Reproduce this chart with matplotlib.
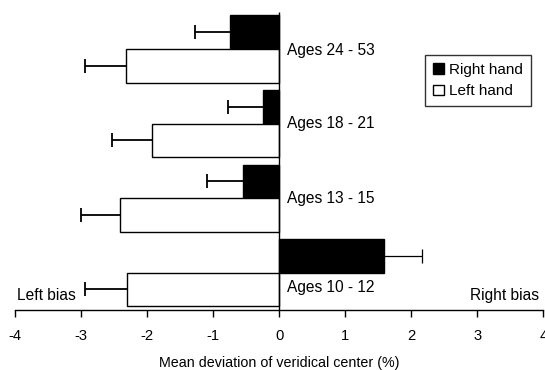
import matplotlib.pyplot as plt
import numpy as np

plt.rcParams['font.family'] = ['Liberation Sans', 'DejaVu Sans']
plt.rcParams['axes.unicode_minus'] = False

# Data (mean deviation in %, with one-sided error)
groups = ['Ages 10 - 12', 'Ages 13 - 15', 'Ages 18 - 21', 'Ages 24 - 53']
right_hand = [1.59, -0.55, -0.24, -0.75]
right_err = [0.57, 0.55, 0.54, 0.52]
left_hand = [-2.31, -2.41, -1.93, -2.33]
left_err = [0.63, 0.60, 0.60, 0.61]

fig = plt.figure(figsize=(5.45, 3.7), dpi=100)
ax = fig.add_axes([15.3 / 545, 1 - 310 / 370, 528 / 545, 298.3 / 370])

y = np.arange(len(groups))
h = 0.45

ax.barh(y + h / 2, right_hand, height=h, color='black', edgecolor='black',
        linewidth=1, label='Right hand', zorder=3)
ax.barh(y - h / 2, left_hand, height=h, color='white', edgecolor='black',
        linewidth=1, label='Left hand', zorder=3)


# error bar only on the outer side of each bar, one cap at the far end
def outer_err(vals, errs, ys, widths):
    for v, e, yy, lw in zip(vals, errs, ys, widths):
        lo, hi = (e, 0) if v < 0 else (0, e)
        _, caps, _ = ax.errorbar([v], [yy], xerr=[[lo], [hi]], fmt='none',
                                 ecolor='black', elinewidth=lw, capsize=5,
                                 capthick=lw, zorder=2)
        # caps[0] is the left cap, caps[1] the right one
        caps[1 if v < 0 else 0].set_visible(False)


outer_err(right_hand, right_err, y + h / 2, [0.9, 1.3, 1.3, 1.3])
outer_err(left_hand, left_err, y - h / 2, [1.3] * 4)

ax.vlines(0, -0.5, 3.5, color='black', linewidth=1, zorder=4)

label_dy = [-0.2, 0.0, 0.0, -0.02]
for yi, g, dy in zip(y, groups, label_dy):
    ax.text(0.11, yi + dy, g, va='center', ha='left', fontsize=11.2, zorder=5)

ax.text(-3.97, -0.3, 'Left bias', va='center', ha='left', fontsize=11.2)
ax.text(3.93, -0.3, 'Right bias', va='center', ha='right', fontsize=11.2)

ax.set_xlim(-4, 4)
ax.set_ylim(-0.5, 3.5)
ax.set_xticks(range(-4, 5))
ax.set_yticks([])
for s in ['left', 'top', 'right']:
    ax.spines[s].set_visible(False)
ax.spines['bottom'].set_linewidth(1)
ax.tick_params(axis='x', direction='out', length=5, width=1, labelsize=10.6, pad=9)
ax.set_xlabel('Mean deviation of veridical center (%)', fontsize=10.3, labelpad=9)

leg = fig.legend(loc='upper left', bbox_to_anchor=(425 / 545, 1 - 55 / 370),
                 fontsize=11, frameon=True, fancybox=False, edgecolor='black',
                 handlelength=0.72, handleheight=0.68, handletextpad=0.35,
                 borderpad=0.5, labelspacing=0.5, borderaxespad=0)
leg.get_frame().set_linewidth(1)

fig.savefig('out.png', dpi=100)
